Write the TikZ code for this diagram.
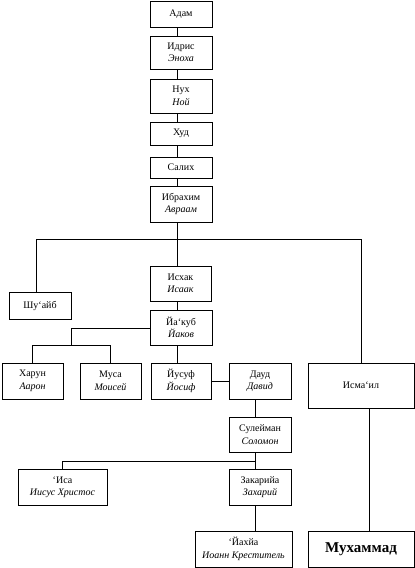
\documentclass[tikz,border=0pt]{standalone}
\usepackage{fontspec}
\setmainfont{Liberation Serif}
\begin{document}
\begin{tikzpicture}[x=1pt,y=-1pt,
  box/.style={draw, line width=0.9pt, rectangle, inner sep=0pt, align=center,
    font=\fontsize{10}{12.5}\selectfont},
  link/.style={line width=0.9pt}]
\fill[white] (0,0) rectangle (415,568);
\useasboundingbox (0,0) rectangle (415,568);
% nodes
\node[box, minimum width=62pt, minimum height=26pt] (adam) at (181,14) {Адам};
\node[box, minimum width=62pt, minimum height=33pt] (idris) at (181,52.5) {Идрис\\\textit{Эноха}};
\node[box, minimum width=62pt, minimum height=34pt] (nuh) at (181,96) {Нух\\\textit{Ной}};
\node[box, minimum width=62pt, minimum height=23pt] (hud) at (181,133.5) {Худ};
\node[box, minimum width=62pt, minimum height=21pt] (salih) at (181,167.5) {Салих};
\node[box, minimum width=62pt, minimum height=36pt] (ibrahim) at (181,204) {Ибрахим\\\textit{Авраам}};
\node[box, minimum width=62pt, minimum height=27pt] (shuaib) at (40,305.5) {Шу‘айб};
\node[box, minimum width=61pt, minimum height=35pt] (ishak) at (180.5,283.5) {Исхак\\\textit{Исаак}};
\node[box, minimum width=62pt, minimum height=35pt] (yakub) at (181,327.5) {Йа‘куб\\\textit{Йаков}};
\node[box, minimum width=61pt, minimum height=36pt] (harun) at (32.5,381) {Харун\\\textit{Аарон}};
\node[box, minimum width=61pt, minimum height=36pt] (musa) at (110.5,381) {Муса\\\textit{Моисей}};
\node[box, minimum width=60pt, minimum height=36pt] (yusuf) at (181,381) {Йусуф\\\textit{Йосиф}};
\node[box, minimum width=62pt, minimum height=36pt] (daud) at (260,381) {Дауд\\\textit{Давид}};
\node[box, minimum width=106pt, minimum height=45pt] (ismail) at (361,385.5) {Исма‘ил};
\node[box, minimum width=62pt, minimum height=35pt] (suleiman) at (260,434.5) {Сулейман\\\textit{Соломон}};
\node[box, minimum width=89pt, minimum height=36pt] (isa) at (62.5,487) {‘Иса\\\textit{Иисус Христос}};
\node[box, minimum width=62pt, minimum height=36pt] (zakariya) at (260,487) {Закарийа\\\textit{Захарий}};
\node[box, minimum width=97pt, minimum height=36pt] (yahya) at (243.5,549) {‘Йахйа\\\textit{Иоанн Креститель}};
\node[box, minimum width=106pt, minimum height=36pt, font=\fontsize{15}{17}\selectfont\bfseries] (muhammad) at (361,549) {Мухаммад};
% helper coordinates
\coordinate (c1) at (177,0);
\coordinate (c2) at (255,0);
\coordinate (c3) at (369,0);
\coordinate (jL) at (36,239);
\coordinate (jR) at (361,239);
\coordinate (ky) at (71,328);
\coordinate (k) at (71,345);
\coordinate (h4) at (255,461);
% connectors
\draw[link] (adam.south -| c1) -- (idris.north -| c1);
\draw[link] (idris.south -| c1) -- (nuh.north -| c1);
\draw[link] (nuh.south -| c1) -- (hud.north -| c1);
\draw[link] (hud.south -| c1) -- (salih.north -| c1);
\draw[link] (salih.south -| c1) -- (ibrahim.north -| c1);
\draw[link] (ibrahim.south -| c1) -- (ishak.north -| c1);
\draw[link] (shuaib.north -| jL) -- (jL) -- (jR) -- (ismail.north -| jR);
\draw[link] (ishak.south -| c1) -- (yakub.north -| c1);
\draw[link] (yakub.south -| c1) -- (yusuf.north -| c1);
\draw[link] (yakub.west |- ky) -- (ky) -- (k);
\draw[link] (harun.north) -- (harun.north |- k) -- (musa.north |- k) -- (musa.north);
\draw[link] (yusuf.east) -- (daud.west);
\draw[link] (daud.south -| c2) -- (suleiman.north -| c2);
\draw[link] (suleiman.south -| c2) -- (zakariya.north -| c2);
\draw[link] (isa.north) -- (isa.north |- h4) -- (h4);
\draw[link] (zakariya.south -| c2) -- (yahya.north -| c2);
\draw[link] (ismail.south -| c3) -- (muhammad.north -| c3);
\end{tikzpicture}
\end{document}
